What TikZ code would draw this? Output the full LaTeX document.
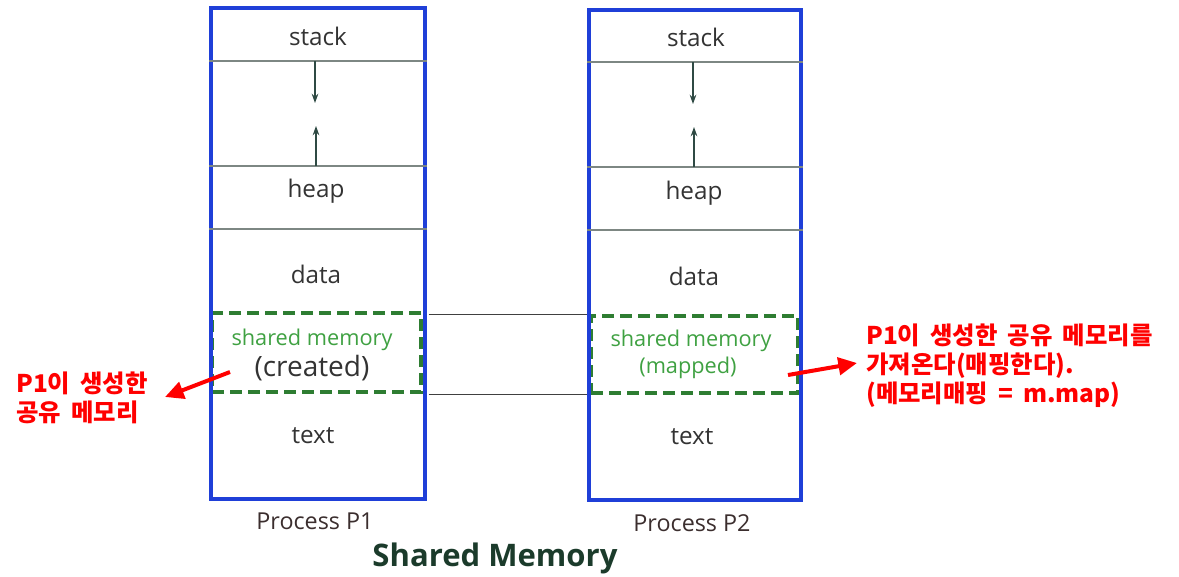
\documentclass[tikz,border=0pt]{standalone}
\usepackage{fontspec}
\setmainfont{Open Sans}
\newfontfamily\kr{Noto Sans CJK KR}[WordSpace={1.8}]
\usetikzlibrary{arrows.meta,fit}
\definecolor{memblue}{HTML}{1F3FD8}
\definecolor{shgreen}{HTML}{2E7D32}
\definecolor{shtext}{HTML}{3FA142}
\definecolor{segtext}{HTML}{333333}
\definecolor{divgray}{HTML}{7D8783}
\definecolor{growc}{HTML}{2F4A44}
\definecolor{proctext}{HTML}{3B2E2E}
\definecolor{titlec}{HTML}{1B3B2B}
\begin{document}
\begin{tikzpicture}[x=0.75pt,y=-0.75pt,
  seg/.style={font=\fontsize{18.2}{21}\selectfont, text=segtext},
  shlabel/.style={font=\fontsize{16.3}{19}\selectfont, text=shtext},
  procbox/.style={draw=memblue, line width=2.4pt, inner sep=0pt},
  shbox/.style={draw=shgreen, line width=2.6pt, dash pattern=on 9pt off 4.5pt, inner sep=0pt},
  divider/.style={draw=divgray, line width=0.9pt},
  growarrow/.style={draw=growc, line width=0.9pt, -{Stealth[length=7pt,width=5pt]}},
  link/.style={draw=black!75, line width=0.9pt},
  note/.style={font=\kr\bfseries\fontsize{18.3}{21.8}\selectfont, text=red, align=left, inner sep=0pt},
  redarrow/.style={draw=red, line width=3pt, -{Triangle[length=14pt,width=13pt]}},
  proclabel/.style={font=\fontsize{17.5}{20}\selectfont, text=proctext}
]
\useasboundingbox (0,0) rectangle (1179,576);

% corner coordinates
\coordinate (p1tl) at (211,8);   \coordinate (p1br) at (425,499);
\coordinate (p2tl) at (589,10);  \coordinate (p2br) at (801,500);
\coordinate (s1tl) at (212,313); \coordinate (s1br) at (421,392);
\coordinate (s2tl) at (591,316); \coordinate (s2br) at (798,393);

% shared memory regions (dashed)
\node[shbox, fit=(s1tl)(s1br)] (sm1) {};
\node[shbox, fit=(s2tl)(s2br)] (sm2) {};

% process boxes
\node[procbox, fit=(p1tl)(p1br)] (p1) {};
\node[procbox, fit=(p2tl)(p2br)] (p2) {};

% dividers P1
\draw[divider] (p1.west |- 0,61)  -- (p1.east |- 0,61);
\draw[divider] (p1.west |- 0,166) -- (p1.east |- 0,166);
\draw[divider] (p1.west |- 0,229) -- (p1.east |- 0,229);
% dividers P2
\draw[divider] (p2.west |- 0,62)  -- (p2.east |- 0,62);
\draw[divider] (p2.west |- 0,167) -- (p2.east |- 0,167);
\draw[divider] (p2.west |- 0,230) -- (p2.east |- 0,230);

% growth arrows
\coordinate (g1a) at (315,61);  \coordinate (g1b) at (315,103);
\coordinate (g1c) at (316,166); \coordinate (g1d) at (316,126);
\coordinate (g2a) at (693,62);  \coordinate (g2b) at (693,104);
\coordinate (g2c) at (694,167); \coordinate (g2d) at (694,127);
\draw[growarrow] (g1a) -- (g1b);
\draw[growarrow] (g1c) -- (g1d);
\draw[growarrow] (g2a) -- (g2b);
\draw[growarrow] (g2c) -- (g2d);

% segment labels P1
\node[seg] (st1) at (318,36) {stack};
\node[seg] (hp1) at (316,191) {heap};
\node[seg] (dt1) at (316,274) {data};
\node[shlabel] (sh1) at (312,340) {shared memory};
\node[seg, font=\fontsize{21}{23}\selectfont] (cr1) at (312,368) {(created)};
\node[seg] (tx1) at (313,436) {text};
% segment labels P2
\node[seg] (st2) at (696,37) {stack};
\node[seg] (hp2) at (694,193) {heap};
\node[seg] (dt2) at (694,276) {data};
\node[shlabel] (sh2) at (691,341) {shared memory};
\node[shlabel] (mp2) at (688,368) {(mapped)};
\node[seg] (tx2) at (692,437) {text};

% links between shared regions
\draw[link] ([xshift=1.5pt]p1.east |- sm2.north) -- (p2.west |- sm2.north);
\draw[link] ([xshift=1.5pt]p1.east |- sm2.south) -- (p2.west |- sm2.south);

% process labels and title
\node[proclabel] (pl1) at (315,521) {Process P1};
\node[proclabel] (pl2) at (692,523) {Process P2};
\node[font=\bfseries\fontsize{23.3}{27}\selectfont, text=titlec] (title) at (495,558) {Shared Memory};

% notes
\node[note, anchor=west] (n1) at (16,398) {P1이 생성한\\공유 메모리};
\node[note, anchor=west] (n2) at (866,366) {P1이 생성한 공유 메모리를\\가져온다(매핑한다).\\(메모리매핑 = m.map)};
\coordinate (a1s) at (230,372);
\coordinate (a1t) at (165,397);
\coordinate (a2s) at (788,375);
\coordinate (a2t) at (857,363);
\draw[redarrow] (a1s) -- (a1t);
\draw[redarrow] (a2s) -- (a2t);
\end{tikzpicture}
\end{document}
